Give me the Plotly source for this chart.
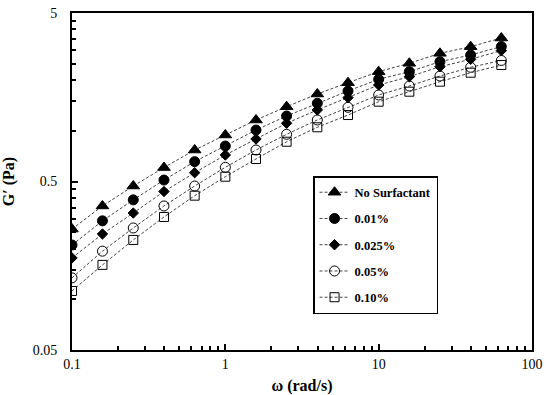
import plotly.graph_objects as go

omega = [0.1, 0.158, 0.251, 0.398, 0.631, 1.0, 1.585, 2.51, 3.98, 6.31, 10.0, 15.85, 25.1, 39.8, 63.1]

g_none = [0.261, 0.358, 0.470, 0.605, 0.769, 0.944, 1.159, 1.390, 1.653, 1.929, 2.243, 2.515, 2.882, 3.155, 3.553]
g_001 = [0.210, 0.292, 0.389, 0.510, 0.656, 0.812, 1.010, 1.224, 1.456, 1.722, 2.021, 2.243, 2.570, 2.816, 3.160]
g_0025 = [0.176, 0.244, 0.325, 0.436, 0.564, 0.718, 0.894, 1.108, 1.329, 1.572, 1.869, 2.094, 2.400, 2.656, 2.990]
g_005 = [0.134, 0.193, 0.265, 0.358, 0.470, 0.607, 0.769, 0.953, 1.159, 1.378, 1.631, 1.844, 2.114, 2.381, 2.613]
g_010 = [0.112, 0.160, 0.225, 0.308, 0.412, 0.534, 0.680, 0.861, 1.049, 1.240, 1.488, 1.706, 1.956, 2.211, 2.456]

series_names = ["No Surfactant", "0.01%", "0.025%", "0.05%", "0.10%"]
series_vals = [g_none, g_001, g_0025, g_005, g_010]
symbols = ["triangle-up", "circle", "diamond", "circle-open", "square-open"]
sizes = [11, 10, 8, 10, 9]

y_ticks = [0.05, 0.5, 5]
y_ticktext = ["0.05", "0.5", "5"]
x_ticks = [0.1, 1, 10, 100]
x_ticktext = ["0.1", "1", "10", "100"]

x_minor = [m * d for d in [0.1, 1, 10] for m in range(2, 10)]
y_minor = [0.05 * k for k in range(2, 10)] + [0.5 * k for k in range(2, 10)]

FONT = "Liberation Serif, Times New Roman, serif"

fig = go.Figure()
for i, (name, vals, sym, sz) in enumerate(zip(series_names, series_vals, symbols, sizes)):
    fig.add_trace(go.Scatter(
        x=omega, y=vals, name=name, mode="lines+markers",
        legendgroup=f"g{i}",
        line=dict(color="#444444", width=1, dash="3px,2px"),
        marker=dict(symbol=sym, size=sz, color="black",
                    line=dict(color="black", width=1)),
    ))

axis_common = dict(
    showline=True, linecolor="black", linewidth=2, mirror=True,
    ticks="inside", ticklen=6, tickcolor="black", tickwidth=1.5,
    showgrid=False, zeroline=False, automargin=False,
    tickfont=dict(family=FONT, size=14, color="black"),
)

fig.update_xaxes(
    type="log", range=[-1, 2], tickmode="array", tickvals=x_ticks, ticktext=x_ticktext,
    minor=dict(tickmode="array", tickvals=x_minor, ticks="inside", ticklen=4,
               tickcolor="black", tickwidth=1.5, showgrid=False),
    title=dict(text="<b>ω (rad/s)</b>", font=dict(family=FONT, size=16, color="black")),
    **axis_common,
)
fig.update_yaxes(
    type="log", range=[-1.30103, 0.69897], tickmode="array", tickvals=y_ticks, ticktext=y_ticktext,
    minor=dict(tickmode="array", tickvals=y_minor, ticks="inside", ticklen=4,
               tickcolor="black", tickwidth=1.5, showgrid=False),
    title=dict(text="<b>G′ (Pa)</b>", font=dict(family=FONT, size=16, color="black")),
    ticklabelstandoff=10,
    **axis_common,
)

fig.update_layout(
    width=550, height=395,
    margin=dict(l=72, r=18, t=13, b=45),
    paper_bgcolor="white", plot_bgcolor="white",
    legend=dict(
        x=0.524, y=0.516, xanchor="left", yanchor="top",
        bgcolor="white", bordercolor="black", borderwidth=1.5,
        font=dict(family=FONT, size=12.5, color="black", weight="bold"),
        tracegroupgap=7, itemwidth=30,
    ),
    showlegend=True,
)

fig.write_html("out.html", config={"displayModeBar": False},
               post_script="document.body.style.margin='0';")
